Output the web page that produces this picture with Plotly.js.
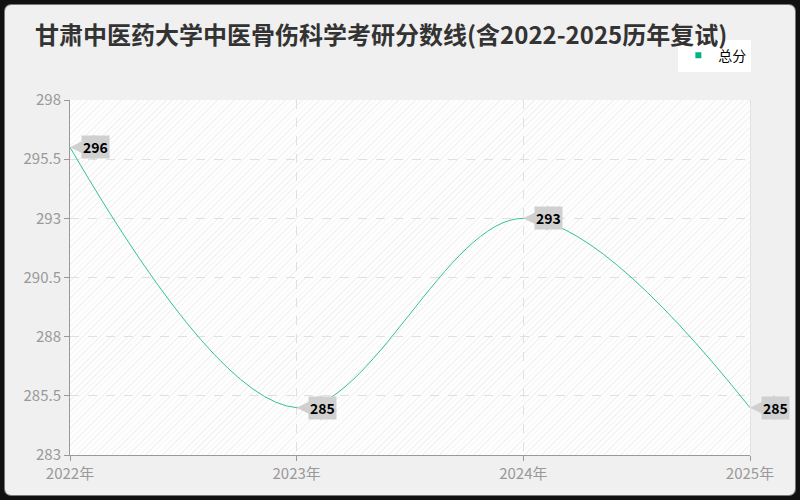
<!DOCTYPE html>
<html>
<head>
<meta charset="utf-8">
<script src="https://cdn.plot.ly/plotly-3.0.1.min.js"></script>
<style>
  html, body { margin: 0; padding: 0; background: #111; }
  #frame { position: absolute; left: 5px; top: 5px; width: 790px; height: 490px;
           border-radius: 6px; overflow: hidden; background: #f0f0f0;
           box-shadow: 0 0 0 1px #777; }
  #hatch { position: absolute; left: 65px; top: 95px; width: 680px; height: 355px;
           border-right: 1px solid #e2e2e2;
           background: repeating-linear-gradient(-45deg, #fefefe 0px, #fefefe 3px, #f3f3f3 3px, #f3f3f3 4px); }
  #chart { position: absolute; left: 0; top: 0; width: 790px; height: 490px; }
</style>
</head>
<body>
<div id="frame">
  <div id="hatch"></div>
  <div id="chart"></div>
</div>
<script>
// 年份与总分
const years = ['2022年', '2023年', '2024年', '2025年'];
const scores = [296, 285, 293, 285];
const yTicks = [283, 285.5, 288, 290.5, 293, 295.5, 298];
const seriesName = '总分';
const lineColor = '#35c290';

const font = 'Noto Sans CJK SC, Noto Sans, sans-serif';

const lineTrace = {
  x: years,
  y: scores,
  mode: 'lines',
  line: { shape: 'spline', smoothing: 1, color: lineColor, width: 1 },
  showlegend: false,
  hoverinfo: 'skip'
};

const legendTrace = {
  x: [null],
  y: [null],
  mode: 'markers',
  name: seriesName,
  marker: { symbol: 'square', size: 6, color: '#00b386' }
};

// 数值标签：灰色框 + 左侧三角指针
const boxes = years.map((yr, i) => ({
  x: yr, y: scores[i], xref: 'x', yref: 'y',
  text: '<b>' + scores[i] + '</b>',
  showarrow: false,
  xanchor: 'left',
  yanchor: 'middle',
  xshift: 11,
  bgcolor: '#d0d0d0',
  borderpad: 1,
  font: { family: font, size: 14, color: '#000' }
}));
const pointers = years.map((yr, i) => ({
  x: yr, y: scores[i], xref: 'x', yref: 'y',
  text: ' ',
  showarrow: true,
  ax: 13,
  ay: 0,
  arrowhead: 2,
  arrowsize: 1,
  arrowwidth: 5,
  arrowcolor: '#d0d0d0',
  standoff: 0,
  font: { size: 1 }
}));

const layout = {
  width: 790,
  height: 490,
  paper_bgcolor: 'rgba(0,0,0,0)',
  plot_bgcolor: 'rgba(0,0,0,0)',
  margin: { l: 65, r: 45, t: 95, b: 40 },
  font: { family: font },
  title: {
    text: '<b>甘肃中医药大学中医骨伤科学考研分数线(含2022-2025历年复试)</b>',
    x: 0.038,
    xanchor: 'left',
    y: 0.938,
    yanchor: 'middle',
    font: { family: font, size: 24, color: '#333' }
  },
  showlegend: true,
  legend: {
    x: 1.002,
    y: 1.17,
    xanchor: 'right',
    yanchor: 'top',
    bgcolor: '#ffffff',
    borderwidth: 0,
    font: { family: font, size: 14, color: '#000' },
    itemwidth: 30,
    tracegroupgap: 0
  },
  xaxis: {
    type: 'category',
    range: [0, 3],
    showline: true,
    linecolor: '#999',
    linewidth: 1,
    ticks: 'outside',
    ticklen: 5,
    tickcolor: '#999',
    showgrid: true,
    gridcolor: '#e0e0e0',
    griddash: 'dash',
    tickfont: { family: font, size: 15, color: '#999' },
    zeroline: false,
    fixedrange: true
  },
  yaxis: {
    range: [283, 298],
    tickvals: yTicks,
    ticktext: yTicks.map(String),
    showline: true,
    linecolor: '#999',
    linewidth: 1,
    ticks: 'outside',
    ticklen: 5,
    tickcolor: '#999',
    showgrid: true,
    gridcolor: '#e0e0e0',
    griddash: 'dash',
    tickfont: { family: font, size: 15, color: '#999' },
    zeroline: false,
    fixedrange: true
  },
  annotations: pointers.concat(boxes)
};

Plotly.newPlot('chart', [lineTrace, legendTrace], layout, { displayModeBar: false, staticPlot: true });
</script>
</body>
</html>
